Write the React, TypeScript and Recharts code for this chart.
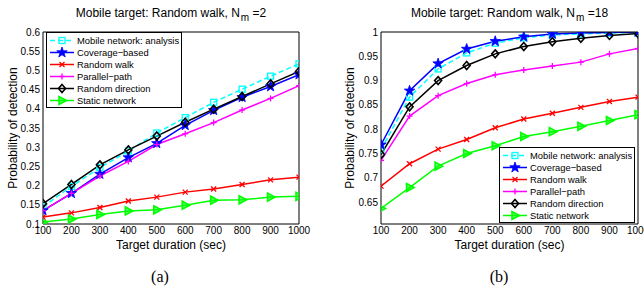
import React from "react";
import { LineChart, Line, XAxis, YAxis, Legend } from "recharts";

const FONT = '"Liberation Sans", Arial, Helvetica, sans-serif';

const durations = [100, 200, 300, 400, 500, 600, 700, 800, 900, 1000];

// panel (a): N_m = 2
const analysisA = [0.145, 0.198, 0.247, 0.29, 0.337, 0.377, 0.417, 0.451, 0.485, 0.517];
const coverageA = [0.135, 0.18, 0.23, 0.273, 0.31, 0.357, 0.396, 0.43, 0.458, 0.489];
const randomWalkA = [0.118, 0.129, 0.143, 0.16, 0.17, 0.183, 0.191, 0.203, 0.215, 0.222];
const parallelA = [0.135, 0.18, 0.225, 0.263, 0.307, 0.335, 0.364, 0.397, 0.427, 0.46];
const randomDirA = [0.153, 0.203, 0.254, 0.293, 0.329, 0.365, 0.399, 0.432, 0.465, 0.497];
const staticA = [0.105, 0.113, 0.125, 0.134, 0.137, 0.149, 0.162, 0.163, 0.17, 0.172];

// panel (b): N_m = 18
const analysisB = [0.758, 0.866, 0.924, 0.957, 0.977, 0.988, 0.994, 0.996, 0.998, 0.999];
const coverageB = [0.768, 0.879, 0.935, 0.965, 0.981, 0.99, 0.996, 0.998, 0.999, 1.0];
const randomWalkB = [0.683, 0.729, 0.759, 0.779, 0.803, 0.821, 0.833, 0.845, 0.857, 0.866];
const parallelB = [0.736, 0.827, 0.869, 0.894, 0.912, 0.922, 0.93, 0.938, 0.955, 0.966];
const randomDirB = [0.748, 0.846, 0.9, 0.931, 0.955, 0.97, 0.98, 0.987, 0.993, 0.997];
const staticB = [0.637, 0.68, 0.724, 0.75, 0.766, 0.785, 0.795, 0.806, 0.818, 0.83];

const yTicksA = [0.1, 0.15, 0.2, 0.25, 0.3, 0.35, 0.4, 0.45, 0.5, 0.55, 0.6];
const yTicksB = [0.65, 0.7, 0.75, 0.8, 0.85, 0.9, 0.95, 1];

const seriesKeys = ["analysis", "coverage", "randomWalk", "parallel", "randomDir", "static"];
const seriesNames = [
  "Mobile network: analysis",
  "Coverage\u2212based",
  "Random walk",
  "Parallel\u2212path",
  "Random direction",
  "Static network",
];
const seriesColors = ["#00ffff", "#0000ff", "#ff0000", "#ff00ff", "#000000", "#00ff00"];
const seriesMarkers = ["square", "star", "x", "plus", "diamond", "triangle"];

function Marker({ kind, cx, cy, color }: { kind: string; cx: number; cy: number; color: string }) {
  const sw = 1.3;
  switch (kind) {
    case "square":
      return <rect x={cx - 3} y={cy - 3} width={6} height={6} fill="none" stroke={color} strokeWidth={sw} />;
    case "star": {
      const pts: string[] = [];
      for (let k = 0; k < 10; k++) {
        const r = k % 2 === 0 ? 5.5 : 2.2;
        const a = ((-90 + k * 36) * Math.PI) / 180;
        pts.push(`${cx + r * Math.cos(a)},${cy + r * Math.sin(a)}`);
      }
      return <polygon points={pts.join(" ")} fill={color} stroke={color} strokeWidth={0.8} />;
    }
    case "x":
      return (
        <g stroke={color} strokeWidth={sw}>
          <line x1={cx - 2.5} y1={cy - 2.5} x2={cx + 2.5} y2={cy + 2.5} />
          <line x1={cx - 2.5} y1={cy + 2.5} x2={cx + 2.5} y2={cy - 2.5} />
        </g>
      );
    case "plus":
      return (
        <g stroke={color} strokeWidth={sw}>
          <line x1={cx - 3} y1={cy} x2={cx + 3} y2={cy} />
          <line x1={cx} y1={cy - 3} x2={cx} y2={cy + 3} />
        </g>
      );
    case "diamond":
      return (
        <polygon
          points={`${cx},${cy - 4} ${cx + 3.5},${cy} ${cx},${cy + 4} ${cx - 3.5},${cy}`}
          fill="none"
          stroke={color}
          strokeWidth={1.6}
        />
      );
    default:
      return (
        <polygon
          points={`${cx + 4.5},${cy} ${cx - 3},${cy - 4} ${cx - 3},${cy + 4}`}
          fill={color}
          fillOpacity={0.6}
          stroke={color}
          strokeWidth={1.6}
        />
      );
  }
}

function buildRows(cols: number[][]) {
  return durations.map((d, i) => {
    const row: Record<string, number> = { duration: d };
    seriesKeys.forEach((k, j) => {
      row[k] = cols[j][i];
    });
    return row;
  });
}

const fmt = (v: number) => String(Number(v.toFixed(2)));

function LegendBox({ payload }: any) {
  const items = [...(payload ?? [])].sort(
    (a: any, b: any) => seriesKeys.indexOf(String(a.dataKey)) - seriesKeys.indexOf(String(b.dataKey))
  );
  return (
    <svg width={136} height={76} style={{ display: "block" }}>
      <rect x={0.5} y={0.5} width={135} height={75} fill="#fff" stroke="#000" />
      {items.map((it: any, i: number) => {
        const j = seriesKeys.indexOf(String(it.dataKey));
        const y = 8.5 + i * 12;
        return (
          <g key={String(it.dataKey)}>
            <line
              x1={4}
              x2={28}
              y1={y}
              y2={y}
              stroke={seriesColors[j]}
              strokeWidth={1.5}
              strokeDasharray={j === 0 ? "5 3" : undefined}
            />
            <Marker kind={seriesMarkers[j]} cx={16} cy={y} color={seriesColors[j]} />
            <text x={31} y={y + 3.4} fontSize={9.4} fontFamily={FONT} fill="#000">
              {seriesNames[j]}
            </text>
          </g>
        );
      })}
    </svg>
  );
}

const tickStyle = { fontSize: 10, fill: "#000", fontFamily: FONT };

function Panel({
  offsetX,
  rows,
  yDomain,
  yTicks,
  nm,
  caption,
  captionX,
  marginLeft,
  marginRight,
  legendLeft,
  legendTop,
  yLabelX,
}: {
  offsetX: number;
  rows: Record<string, number>[];
  yDomain: [number, number];
  yTicks: number[];
  nm: string;
  caption: string;
  captionX: number;
  marginLeft: number;
  marginRight: number;
  legendLeft: number;
  legendTop: number;
  yLabelX: number;
}) {
  const plotLeft = marginLeft + 30;
  const plotRight = 322 - marginRight;
  const plotCenter = (plotLeft + plotRight) / 2;
  return (
    <div style={{ position: "absolute", left: offsetX, top: 0, width: 322, height: 289 }}>
      <LineChart
        width={322}
        height={250}
        data={rows}
        margin={{ top: 32, right: marginRight, bottom: 6, left: marginLeft }}
      >
        <XAxis
          dataKey="duration"
          type="number"
          domain={[100, 1000]}
          allowDataOverflow
          ticks={durations}
          interval={0}
          tickLine={false}
          axisLine={false}
          tickSize={0}
          tickMargin={3}
          height={20}
          tick={tickStyle}
        />
        <XAxis
          xAxisId="bottomBox"
          dataKey="duration"
          type="number"
          domain={[100, 1000]}
          allowDataOverflow
          ticks={durations}
          interval={0}
          mirror
          tick={false}
          tickSize={3}
          stroke="#000"
        />
        <XAxis
          xAxisId="topBox"
          orientation="top"
          dataKey="duration"
          type="number"
          domain={[100, 1000]}
          allowDataOverflow
          ticks={durations}
          interval={0}
          mirror
          tick={false}
          tickSize={3}
          stroke="#000"
        />
        <YAxis
          type="number"
          domain={yDomain}
          allowDataOverflow
          ticks={yTicks}
          interval={0}
          width={30}
          tickLine={false}
          axisLine={false}
          tickSize={0}
          tickMargin={3}
          tickFormatter={fmt}
          tick={tickStyle}
        />
        <YAxis
          yAxisId="leftBox"
          type="number"
          domain={yDomain}
          allowDataOverflow
          ticks={yTicks}
          interval={0}
          mirror
          tick={false}
          tickSize={3}
          stroke="#000"
        />
        <YAxis
          yAxisId="rightBox"
          orientation="right"
          type="number"
          domain={yDomain}
          allowDataOverflow
          ticks={yTicks}
          interval={0}
          mirror
          tick={false}
          tickSize={3}
          stroke="#000"
        />
        <Legend
          layout="vertical"
          align="center"
          verticalAlign="middle"
          content={<LegendBox />}
          wrapperStyle={{ left: legendLeft, top: legendTop, width: 136, height: 76 }}
        />
        {seriesKeys.map((k, j) => (
          <Line
            key={k}
            dataKey={k}
            name={seriesNames[j]}
            stroke={seriesColors[j]}
            strokeWidth={1.5}
            strokeDasharray={j === 0 ? "5 3" : undefined}
            isAnimationActive={false}
            dot={(p: any) => (
              <Marker key={`${k}-${p.index}`} kind={seriesMarkers[j]} cx={p.cx} cy={p.cy} color={seriesColors[j]} />
            )}
            activeDot={false}
          />
        ))}
      </LineChart>
      <div
        style={{
          position: "absolute",
          left: plotCenter - 150,
          width: 300,
          top: 5,
          textAlign: "center",
          fontSize: 12,
          lineHeight: "16px",
          fontFamily: FONT,
          whiteSpace: "nowrap",
        }}
      >
        Mobile target: Random walk, N
        <sub style={{ fontSize: 10, verticalAlign: "-4px", lineHeight: 0, marginLeft: 1 }}>m</sub> ={nm}
      </div>
      <div
        style={{
          position: "absolute",
          left: yLabelX - 100,
          top: 128 - 8,
          width: 200,
          height: 16,
          lineHeight: "16px",
          textAlign: "center",
          fontSize: 12,
          fontFamily: FONT,
          transform: "rotate(-90deg)",
          whiteSpace: "nowrap",
        }}
      >
        Probability of detection
      </div>
      <div
        style={{
          position: "absolute",
          left: plotCenter - 100,
          width: 200,
          top: 237,
          lineHeight: "16px",
          textAlign: "center",
          fontSize: 12,
          fontFamily: FONT,
        }}
      >
        Target duration (sec)
      </div>
      <div
        style={{
          position: "absolute",
          left: captionX - 30,
          width: 60,
          top: 267,
          lineHeight: "20px",
          textAlign: "center",
          fontSize: 16,
          fontFamily: '"Liberation Serif", "Times New Roman", serif',
        }}
      >
        {caption}
      </div>
    </div>
  );
}

const rowsA = buildRows([analysisA, coverageA, randomWalkA, parallelA, randomDirA, staticA]);
const rowsB = buildRows([analysisB, coverageB, randomWalkB, parallelB, randomDirB, staticB]);

export default function App() {
  return (
    <div
      style={{
        position: "absolute",
        left: 0,
        top: 0,
        width: 644,
        height: 289,
        overflow: "hidden",
        background: "#fff",
      }}
    >
      <Panel
        offsetX={0}
        rows={rowsA}
        yDomain={[0.1, 0.6]}
        yTicks={yTicksA}
        nm="2"
        caption="(a)"
        captionX={160}
        marginLeft={13}
        marginRight={23}
        legendLeft={46}
        legendTop={32}
        yLabelX={13}
      />
      <Panel
        offsetX={322}
        rows={rowsB}
        yDomain={[0.605, 1]}
        yTicks={yTicksB}
        nm="18"
        caption="(b)"
        captionX={177}
        marginLeft={29}
        marginRight={6}
        legendLeft={177}
        legendTop={147}
        yLabelX={28}
      />
    </div>
  );
}
